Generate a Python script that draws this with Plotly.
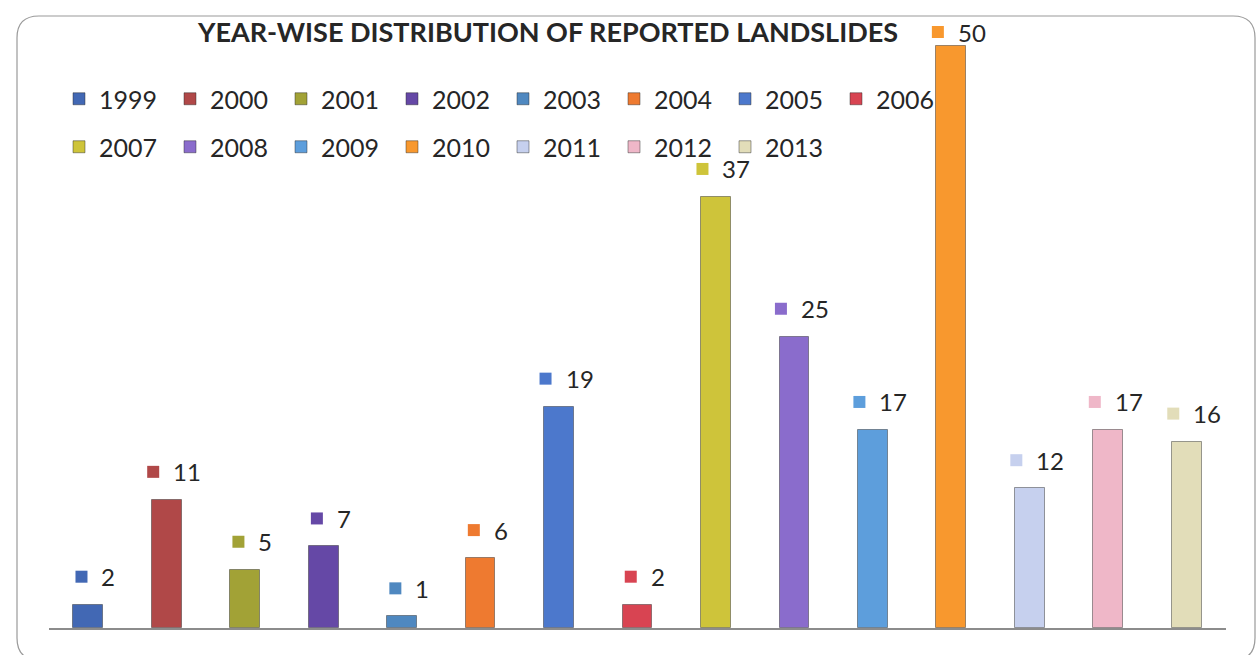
import plotly.graph_objects as go

# Reported landslides per year
years = [1999, 2000, 2001, 2002, 2003, 2004, 2005, 2006,
         2007, 2008, 2009, 2010, 2011, 2012, 2013]
landslides = [2, 11, 5, 7, 1, 6, 19, 2, 37, 25, 17, 50, 12, 17, 16]
colors = ["#4268b4", "#b04848", "#a2a236", "#6548a6", "#4f88c0",
          "#ee7a30", "#4c78cc", "#d84452", "#cec43a", "#8a6ccc",
          "#5d9edc", "#f8982e", "#c6d0ee", "#efb7c8", "#e2ddb9"]

W, H = 1259, 655
ML, MR, MT, MB = 49, 33, 28, 27
PW, PH = W - ML - MR, H - MT - MB
PX_PER_UNIT = 11.65
YMAX = PH / PX_PER_UNIT
X0, X1 = 1998.5, 2013.5
PX_PER_YEAR = PW / (X1 - X0)

FONT = "Lato, 'Open Sans', sans-serif"
TXT = "#262626"

fig = go.Figure()
for i, (yr, v, c) in enumerate(zip(years, landslides, colors)):
    fig.add_trace(go.Bar(
        x=[yr], y=[v], name=str(yr), width=0.38,
        marker=dict(color=c, line=dict(color="rgba(40,40,40,0.45)", width=1)),
        legend="legend" if i < 8 else "legend2",
        hoverinfo="x+y",
    ))

# value labels: a colour key square followed by the number, centred as a
# group over the bar; labels that would run above the top edge are held
# just below it
LABEL_GAP = 28
TOP_LIMIT = 32
DIGIT_W = 13.5
key_x, key_y = [], []
for yr, v, c in zip(years, landslides, colors):
    bar_top_px = MT + PH - v * PX_PER_UNIT
    shift = min(LABEL_GAP, bar_top_px - TOP_LIMIT)
    group_w = 24 + DIGIT_W * len(str(v))
    left = 6 - group_w / 2
    key_x.append(yr + (left + 6) / PX_PER_YEAR)
    key_y.append(v + shift / PX_PER_UNIT)
    fig.add_annotation(
        x=yr, y=v, xref="x", yref="y", xanchor="left", yanchor="middle",
        text=str(v), showarrow=False, yshift=shift, xshift=left + 24,
        font=dict(family=FONT, size=24, color=TXT),
    )

fig.add_trace(go.Scatter(
    x=key_x, y=key_y, mode="markers", showlegend=False, hoverinfo="skip",
    marker=dict(symbol="square", size=12, color=colors, line=dict(width=0)),
    cliponaxis=False,
))

# rounded chart frame (paper coordinates)
x0, x1 = (17 - ML) / PW, (1255 - ML) / PW
y1, y0 = (H - MB - 16) / PH, (H - MB - 660) / PH
rx, ry = 22 / PW, 22 / PH
frame = (f"M{x0+rx},{y1} L{x1-rx},{y1} Q{x1},{y1} {x1},{y1-ry} "
         f"L{x1},{y0+ry} Q{x1},{y0} {x1-rx},{y0} L{x0+rx},{y0} "
         f"Q{x0},{y0} {x0},{y0+ry} L{x0},{y1-ry} Q{x0},{y1} {x0+rx},{y1} Z")
fig.add_shape(type="path", path=frame, xref="paper", yref="paper",
              line=dict(color="#9a9a9a", width=1.2), layer="below")

legend_common = dict(
    orientation="h", xref="container", yref="container",
    xanchor="left", yanchor="middle",
    font=dict(family=FONT, size=25, color=TXT),
    bgcolor="rgba(0,0,0,0)", entrywidthmode="pixels", entrywidth=66,
    itemclick=False, itemdoubleclick=False,
)

fig.update_layout(
    width=W, height=H,
    margin=dict(l=ML, r=MR, t=MT, b=MB, autoexpand=False),
    paper_bgcolor="white", plot_bgcolor="white",
    barmode="overlay", bargap=0,
    title=dict(text="<b>YEAR-WISE DISTRIBUTION OF REPORTED LANDSLIDES</b>",
               x=548 / W, y=1 - 33 / H, xref="container", yref="container",
               xanchor="center", yanchor="middle",
               font=dict(family=FONT, size=27, color=TXT)),
    legend=dict(x=59 / W, y=1 - 99 / H, **legend_common),
    legend2=dict(x=59 / W, y=1 - 147 / H, **legend_common),
    xaxis=dict(range=[X0, X1], showticklabels=False, ticks="",
               showgrid=False, zeroline=False, showline=True,
               linecolor="#8c8c8c", linewidth=1.5, fixedrange=True),
    yaxis=dict(range=[0, YMAX], visible=False, showgrid=False,
               zeroline=False, fixedrange=True),
    showlegend=True,
)

fig.write_html("out.html")
